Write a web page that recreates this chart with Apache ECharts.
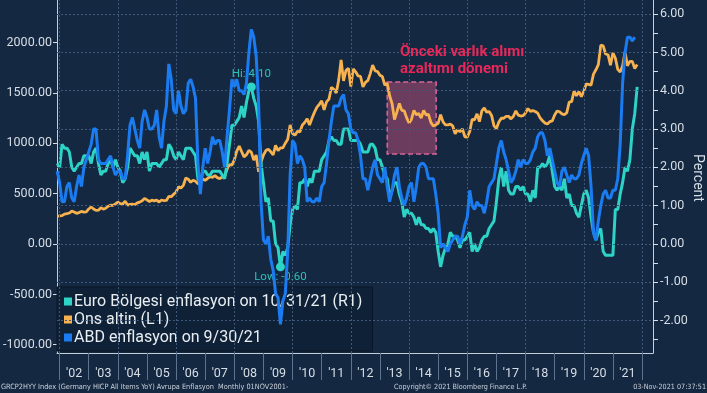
<!DOCTYPE html>
<html>
<head>
<meta charset="utf-8">
<script src="https://cdn.jsdelivr.net/npm/echarts@6/dist/echarts.min.js"></script>
<style>
html,body{margin:0;padding:0;background:#142841;}
#chart{width:707px;height:393px;}
</style>
</head>
<body>
<div id="chart"></div>
<script>
// ---- DATA (monthly, first point = Nov 2001, month-end) ----
const startYear = 2001;
const startMonth = 11;

// Ons altin (L1), USD
const goldPrice = [
  275, 279,
  282, 297, 302, 308, 326, 318, 304, 312, 324, 317, 319, 348,
  368, 348, 334, 336, 361, 346, 355, 375, 385, 384, 398, 416,
  401, 397, 426, 387, 394, 396, 391, 409, 416, 429, 453, 438,
  422, 435, 428, 435, 417, 437, 430, 433, 473, 470, 495, 517,
  569, 556, 583, 655, 644, 613, 633, 623, 599, 604, 646, 632,
  651, 669, 662, 679, 659, 650, 665, 673, 743, 789, 783, 836,
  923, 972, 917, 865, 886, 930, 913, 833, 884, 716, 814, 884,
  928, 942, 916, 884, 979, 927, 955, 955, 1001, 1040, 1182, 1096,
  1081, 1119, 1113, 1180, 1207, 1244, 1181, 1248, 1307, 1357, 1387, 1421,
  1333, 1411, 1439, 1556, 1536, 1500, 1628, 1829, 1620, 1723, 1746, 1564,
  1738, 1710, 1669, 1664, 1560, 1604, 1622, 1692, 1776, 1720, 1713, 1676,
  1663, 1579, 1595, 1472, 1393, 1235, 1312, 1396, 1327, 1323, 1253, 1202,
  1240, 1326, 1284, 1296, 1250, 1327, 1282, 1287, 1208, 1171, 1183, 1199,
  1284, 1213, 1183, 1184, 1190, 1172, 1095, 1135, 1115, 1142, 1065, 1061,
  1118, 1238, 1233, 1293, 1215, 1322, 1351, 1309, 1316, 1277, 1173, 1146,
  1211, 1249, 1249, 1268, 1268, 1242, 1269, 1322, 1280, 1271, 1275, 1303,
  1345, 1318, 1325, 1316, 1299, 1253, 1224, 1201, 1192, 1215, 1222, 1282,
  1321, 1313, 1292, 1284, 1305, 1409, 1414, 1520, 1472, 1513, 1464, 1517,
  1589, 1585, 1577, 1687, 1730, 1781, 1975, 1968, 1887, 1879, 1776, 1898,
  1847, 1734, 1708, 1769, 1906, 1770, 1814, 1814, 1743, 1783
];

// Euro Bölgesi enflasyon (R1), % YoY
const euroInflation = [
  2.1, 2.0,
  2.6, 2.5, 2.5, 2.4, 2.0, 1.9, 2.0, 2.1, 2.1, 2.3, 2.3, 2.3,
  2.1, 2.4, 2.5, 2.1, 1.8, 1.9, 1.9, 2.1, 2.2, 2.0, 2.2, 2.0,
  1.9, 1.6, 1.7, 2.0, 2.5, 2.4, 2.3, 2.3, 2.1, 2.4, 2.2, 2.4,
  1.9, 2.1, 2.1, 2.1, 2.0, 2.1, 2.2, 2.2, 2.6, 2.5, 2.3, 2.2,
  2.4, 2.3, 2.2, 2.5, 2.5, 2.5, 2.4, 2.3, 1.7, 1.6, 1.9, 1.9,
  1.8, 1.8, 1.9, 1.9, 1.9, 1.9, 1.8, 1.7, 2.1, 2.6, 3.1, 3.1,
  3.2, 3.3, 3.6, 3.3, 3.7, 4.0, 4.1, 3.8, 3.6, 3.2, 2.1, 1.6,
  1.1, 1.2, 0.6, 0.6, 0.0, -0.1, -0.6, -0.2, -0.3, -0.1, 0.5, 0.9,
  1.0, 0.9, 1.6, 1.6, 1.7, 1.5, 1.7, 1.6, 1.9, 1.9, 1.9, 2.2,
  2.3, 2.4, 2.7, 2.8, 2.7, 2.7, 2.6, 2.6, 3.0, 3.0, 3.0, 2.7,
  2.7, 2.7, 2.7, 2.6, 2.4, 2.4, 2.4, 2.6, 2.6, 2.5, 2.2, 2.2,
  2.0, 1.8, 1.7, 1.2, 1.4, 1.6, 1.6, 1.3, 1.1, 0.7, 0.9, 0.8,
  0.8, 0.7, 0.5, 0.7, 0.5, 0.5, 0.4, 0.4, 0.3, 0.4, 0.3, -0.2,
  -0.6, -0.3, -0.1, 0.0, 0.3, 0.2, 0.2, 0.1, -0.1, 0.1, 0.1, 0.2,
  0.3, -0.2, 0.0, -0.2, -0.1, 0.1, 0.2, 0.2, 0.4, 0.5, 0.6, 1.1,
  1.7, 2.0, 1.5, 1.9, 1.4, 1.3, 1.3, 1.5, 1.5, 1.4, 1.5, 1.3,
  1.3, 1.1, 1.4, 1.2, 2.0, 2.0, 2.1, 2.0, 2.1, 2.3, 1.9, 1.5,
  1.4, 1.5, 1.4, 1.7, 1.2, 1.3, 1.0, 1.0, 0.8, 0.7, 1.0, 1.3,
  1.4, 1.2, 0.7, 0.3, 0.1, 0.3, 0.4, -0.2, -0.3, -0.3, -0.3, -0.3,
  0.9, 0.9, 1.3, 1.6, 2.0, 1.9, 2.2, 3.0, 3.4, 4.1
];

// ABD enflasyon (R1), % YoY
const usInflation = [
  1.9, 1.6,
  1.1, 1.1, 1.5, 1.6, 1.2, 1.1, 1.5, 1.8, 1.5, 2.0, 2.2, 2.4,
  2.6, 3.0, 3.0, 2.2, 2.1, 2.1, 2.1, 2.2, 2.3, 2.0, 1.8, 1.9,
  1.9, 1.7, 1.7, 2.3, 3.1, 3.3, 3.0, 2.7, 2.5, 3.2, 3.5, 3.3,
  3.0, 3.0, 3.1, 3.5, 2.8, 2.5, 3.2, 3.6, 4.7, 4.3, 3.5, 3.4,
  4.0, 3.6, 3.4, 3.5, 4.2, 4.3, 4.1, 3.8, 2.1, 1.3, 2.0, 2.5,
  2.1, 2.4, 2.8, 2.6, 2.7, 2.7, 2.4, 2.0, 2.8, 3.5, 4.3, 4.1,
  4.3, 4.0, 4.0, 3.9, 4.2, 5.0, 5.6, 5.4, 4.9, 3.7, 1.1, 0.1,
  0.0, 0.2, -0.4, -0.7, -1.3, -1.4, -2.1, -1.5, -1.3, -0.2, 1.8, 2.7,
  2.6, 2.1, 2.3, 2.2, 2.0, 1.1, 1.2, 1.1, 1.1, 1.2, 1.1, 1.5,
  1.6, 2.1, 2.7, 3.2, 3.6, 3.6, 3.6, 3.8, 3.9, 3.5, 3.4, 3.0,
  2.9, 2.9, 2.7, 2.3, 1.7, 1.7, 1.4, 1.7, 2.0, 2.2, 1.8, 1.7,
  1.6, 2.0, 1.5, 1.1, 1.4, 1.8, 2.0, 1.5, 1.2, 1.0, 1.2, 1.5,
  1.6, 1.1, 1.5, 2.0, 2.1, 2.1, 2.0, 1.7, 1.7, 1.7, 1.3, 0.8,
  -0.1, 0.0, -0.1, -0.2, 0.0, 0.1, 0.2, 0.2, 0.0, 0.2, 0.5, 0.7,
  1.4, 1.0, 0.9, 1.1, 1.0, 1.0, 0.8, 1.1, 1.5, 1.6, 1.7, 2.1,
  2.5, 2.7, 2.4, 2.2, 1.9, 1.6, 1.7, 1.9, 2.2, 2.0, 2.2, 2.1,
  2.1, 2.2, 2.4, 2.5, 2.8, 2.9, 2.9, 2.7, 2.3, 2.5, 2.2, 1.9,
  1.6, 1.5, 1.9, 2.0, 1.8, 1.6, 1.8, 1.7, 1.7, 1.8, 2.1, 2.3,
  2.5, 2.3, 1.5, 0.3, 0.1, 0.6, 1.0, 1.3, 1.4, 1.2, 1.2, 1.4,
  1.4, 1.7, 2.6, 4.2, 5.0, 5.4, 5.4, 5.3, 5.4
];

// axis ticks / labels
const yearTicks = [2002,2003,2004,2005,2006,2007,2008,2009,2010,2011,2012,2013,2014,2015,2016,2017,2018,2019,2020,2021,2022];
const yearLabels = ["'02","'03","'04","'05","'06","'07","'08","'09","'10","'11","'12","'13","'14","'15","'16","'17","'18","'19","'20","'21"];
const gridYears = [2002,2004,2006,2008,2010,2012,2014,2016,2018,2020,2022];
const leftTicks = [-1000,-500,0,500,1000,1500,2000];
const rightTicks = [-2,-1,0,1,2,3,4,5,6];
const rightMinorTicks = [-2.5,-2,-1.5,-1,-0.5,0,0.5,1,1.5,2,2.5,3,3.5,4,4.5,5,5.5,6];
const rightAxisTitle = 'Percent';

// taper period box (left-axis units) and annotation
const taperBox = { from: 2013.25, to: 2014.93, low: 895, high: 1610 };
const taperText = ['Önceki varlık alımı', 'azaltımı dönemi'];

const names = ['Euro Bölgesi enflasyon on 10/31/21 (R1)', 'Ons altin (L1)', 'ABD enflasyon on 9/30/21'];
const colors = { euro: '#2dd3c6', gold: '#f7b24f', us: '#1b7cf2' };

function toXY(arr) {
  return arr.map((v, i) => {
    const m = startMonth + i; // month count from Jan of startYear (1-based)
    return [startYear + m / 12, v];
  });
}

const FONT = 'Roboto, "DejaVu Sans", sans-serif';
const SMALL = '"DejaVu Sans Condensed", "DejaVu Sans", sans-serif';
const chart = echarts.init(document.getElementById('chart'), null, { renderer: 'canvas' });

const option = {
  backgroundColor: '#142841',
  animation: false,
  grid: { left: 57, right: 54, top: 0, bottom: 40, containLabel: false, outerBoundsMode: 'none' },
  xAxis: {
    type: 'value',
    min: 2001.91,
    max: 2022.377,
    axisLine: { show: true, onZero: false, lineStyle: { color: '#c4ced8', width: 1 } },
    axisTick: { show: true, customValues: yearTicks, length: 27, lineStyle: { color: '#5d7490', width: 1 } },
    axisLabel: {
      show: true,
      customValues: yearTicks.slice(0, -1).map(y => y + 0.5),
      formatter: v => yearLabels[Math.floor(v) - 2002],
      color: '#d7dee6', fontSize: 12.5, fontFamily: FONT, margin: 14
    },
    splitLine: { show: false }
  },
  yAxis: [
    {
      type: 'value', position: 'left', min: -1082, max: 2423,
      axisLine: { show: true, onZero: false, lineStyle: { color: '#c4ced8', width: 1 } },
      axisTick: { show: true, customValues: leftTicks, length: 4, lineStyle: { color: '#d7dee6' } },
      axisLabel: { customValues: leftTicks, formatter: v => v.toFixed(2), color: '#d7dee6', fontSize: 12.5, fontFamily: FONT, margin: 5 },
      splitLine: { show: false }
    },
    {
      type: 'value', position: 'right', min: -2.85, max: 6.37,
      axisLine: { show: true, onZero: false, lineStyle: { color: '#c4ced8', width: 1 } },
      axisTick: { show: true, customValues: rightMinorTicks, length: 5, lineStyle: { color: '#d7dee6' } },
      axisLabel: { customValues: rightTicks, formatter: v => v.toFixed(2), color: '#d7dee6', fontSize: 12.5, fontFamily: FONT, margin: 7 },
      splitLine: { show: false }
    }
  ],
  legend: {
    data: names,
    orient: 'vertical',
    left: 57, top: 287,
    padding: [6, 10, 5, 7],
    itemGap: 1,
    itemWidth: 8, itemHeight: 8,
    icon: 'rect',
    backgroundColor: '#0f2136',
    borderColor: '#0a1727', borderWidth: 1,
    textStyle: { color: '#e9eef3', fontSize: 16, fontFamily: FONT, padding: [0, 0, 0, -3], lineHeight: 17 },
    z: 1
  },
  graphic: [
    { type: 'text', x: 697, y: 178, rotation: -Math.PI / 2, z: 10, style: { text: rightAxisTitle, align: 'center', verticalAlign: 'middle', fill: '#d7dee6', font: '14px ' + FONT } },
    { type: 'text', left: 400, top: 45, z: 10, style: { text: taperText[0], fill: '#e8285a', font: 'bold 15px ' + FONT } },
    { type: 'text', left: 400, top: 62, z: 10, style: { text: taperText[1], fill: '#e8285a', font: 'bold 15px ' + FONT } },
    { type: 'text', left: 1, top: 384, style: { text: 'GRCP2HYY Index (Germany HICP All Items YoY) Avrupa Enflasyon  Monthly 01NOV2001-', fill: '#c9d1da', font: '7.3px ' + SMALL } },
    { type: 'text', left: 394, top: 384, style: { text: 'Copyright© 2021 Bloomberg Finance L.P.', fill: '#c9d1da', font: '7.2px ' + SMALL } },
    { type: 'text', right: 1, top: 384, style: { text: '03-Nov-2021 07:37:51', fill: '#c9d1da', font: '7.2px ' + SMALL } }
  ],
  series: [
    {
      name: '_grid', type: 'line', yAxisIndex: 1, data: [], silent: true, z: 0,
      markLine: {
        silent: true, symbol: 'none', animation: false,
        label: { show: false },
        lineStyle: { color: '#3d5878', type: [2, 2], width: 1 },
        data: rightTicks.map(v => ({ yAxis: v })).concat(gridYears.map(y => ({ xAxis: y })))
      }
    },
    {
      name: names[1], type: 'line', yAxisIndex: 0, data: toXY(goldPrice),
      showSymbol: false, color: colors.gold, lineStyle: { width: 2.8, color: colors.gold }, z: 3,
      markArea: {
        silent: true,
        itemStyle: { color: 'rgba(214,84,130,0.45)', borderColor: '#d9669a', borderWidth: 1.5, borderType: [5, 3] },
        data: [[{ xAxis: taperBox.from, yAxis: taperBox.high }, { xAxis: taperBox.to, yAxis: taperBox.low }]]
      }
    },
    {
      name: names[0], type: 'line', yAxisIndex: 1, data: toXY(euroInflation),
      showSymbol: false, color: colors.euro, lineStyle: { width: 3, color: colors.euro }, z: 4,
      markPoint: {
        symbol: 'circle', symbolSize: 9,
        itemStyle: { color: colors.euro },
        data: [
          { type: 'max', valueDim: 'y', label: { show: true, position: 'top', distance: 2, formatter: p => 'Hi: ' + p.value.toFixed(2), color: '#2cc2b8', fontSize: 11.5, fontFamily: FONT } },
          { type: 'min', valueDim: 'y', label: { show: true, position: 'bottom', distance: 0, formatter: p => 'Low: ' + p.value.toFixed(2), color: '#2cc2b8', fontSize: 11.5, fontFamily: FONT } }
        ]
      }
    },
    {
      name: names[2], type: 'line', yAxisIndex: 1, data: toXY(usInflation),
      showSymbol: false, color: colors.us, lineStyle: { width: 3, color: colors.us }, z: 5
    }
  ]
};
chart.setOption(option);
</script>
</body>
</html>
